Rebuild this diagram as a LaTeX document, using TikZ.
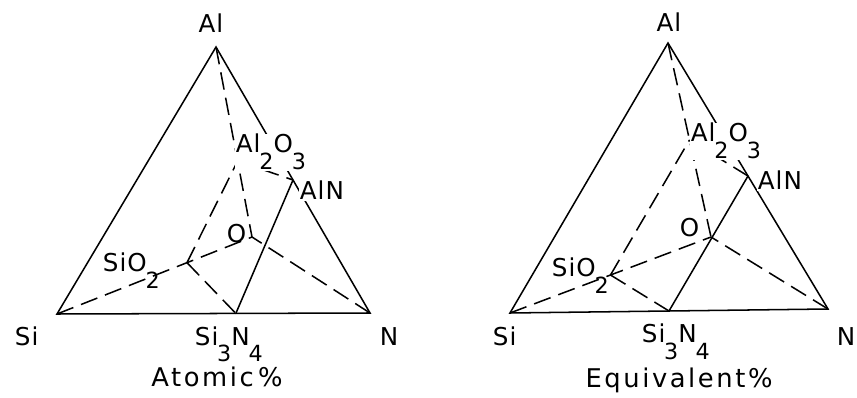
\documentclass[tikz,border=0pt]{standalone}
\usepackage{fontspec}
\usepackage{tikz}
\usetikzlibrary{calc}
\newfontfamily\letterfont[LetterSpace=4]{DejaVu Sans}
\newfontfamily\capfont[LetterSpace=10]{DejaVu Sans}
\newcommand{\lowsub}[1]{\kern-1pt\raisebox{-0.68em}{\fontsize{19}{20}\selectfont #1}}

\begin{document}
\begin{tikzpicture}[
    x=0.03cm, y=-0.03cm,
    edge/.style={draw=black, line width=1.3pt, line cap=round},
    hidden/.style={edge, line cap=butt, dash pattern=on 15pt off 7pt},
    chem/.style={font=\letterfont\fontsize{21}{24}\selectfont, inner sep=0.6pt, fill=white},
    caption/.style={font=\capfont\fontsize{22}{24}\selectfont, inner sep=0pt}
]
    \useasboundingbox (0,0) rectangle (857,398);

    % Atomic % corners
    \coordinate (aSi) at (57,314);
    \coordinate (aN)  at (370,313);
    \coordinate (aAl) at (216,47);
    \coordinate (aO)  at (252,237);
    % compounds on the edges
    \coordinate (aSiN) at ($(aSi)!4/7!(aN)$);
    \coordinate (aAlN) at ($(aAl)!1/2!(aN)$);
    \coordinate (aAlO) at ($(aAl)!3/5!(aO)$);
    \coordinate (aSiO) at ($(aSi)!2/3!(aO)$);

    % Equivalent % corners
    \coordinate (eSi) at (510,313);
    \coordinate (eN)  at (828,309);
    \coordinate (eAl) at (668,43);
    \coordinate (eO)  at (711,237);
    \coordinate (eSiN) at ($(eSi)!1/2!(eN)$);
    \coordinate (eAlN) at ($(eAl)!1/2!(eN)$);
    \coordinate (eAlO) at ($(eAl)!1/2!(eO)$);
    \coordinate (eSiO) at ($(eSi)!1/2!(eO)$);

    % Lines
    \draw [edge] (aSi) -- (aN) -- (aAl) -- cycle;
    \draw [edge] (aSiN) -- (aAlN);
    \draw [hidden] (aSi) -- (aO);
    \draw [hidden] (aAl) -- (aO);
    \draw [hidden] (aN) -- (aO);
    \draw [hidden] (aSiO) -- (aAlO);
    \draw [hidden] (aAlO) -- (aAlN);
    \draw [hidden] (aSiO) -- (aSiN);

    \draw [edge] (eSi) -- (eN) -- (eAl) -- cycle;
    \draw [edge] (eSiN) -- (eAlN);
    \draw [hidden] (eSi) -- (eO);
    \draw [hidden] (eAl) -- (eO);
    \draw [hidden] (eN) -- (eO);
    \draw [hidden] (eSiO) -- (eAlO);
    \draw [hidden] (eAlO) -- (eAlN);
    \draw [hidden] (eSiO) -- (eSiN);

    % Labels
    \node [chem, anchor=base] (aAlTxt) at (211,33) {Al};
    \node [chem, anchor=base west] (aSiTxt) at (14,345) {Si};
    \node [chem, anchor=base west] (aNTxt) at (379,345) {N};
    \node [chem, anchor=base west] (aSiNTxt) at (194,345) {Si\lowsub{3}N\lowsub{4}};
    \node [chem, anchor=base west] (aAlOTxt) at (235,153) {Al\lowsub{2}O\lowsub{3}};
    \node [chem, anchor=base west] (aAlNTxt) at (299,200) {AlN};
    \node [chem, anchor=base west, fill=none] (aOTxt) at (226,243) {O};
    \node [chem, anchor=base west, fill=none] (aSiOTxt) at (102,272) {SiO\lowsub{2}};
    \node [caption, anchor=base] (aCap) at (217,386) {Atomic\,\%};

    \node [chem, anchor=base] (eAlTxt) at (669,32) {Al};
    \node [chem, anchor=base west] (eSiTxt) at (492,345) {Si};
    \node [chem, anchor=base west] (eNTxt) at (836,345) {N};
    \node [chem, anchor=base west] (eSiNTxt) at (641,343) {Si\lowsub{3}N\lowsub{4}};
    \node [chem, anchor=base west] (eAlOTxt) at (690,142) {Al\lowsub{2}O\lowsub{3}};
    \node [chem, anchor=base west] (eAlNTxt) at (757,190) {AlN};
    \node [chem, anchor=base west, fill=none] (eOTxt) at (679,237) {O};
    \node [chem, anchor=base west, fill=none] (eSiOTxt) at (551,277) {SiO\lowsub{2}};
    \node [caption, anchor=base] (eCap) at (679,387) {Equivalent\%};

\end{tikzpicture}
\end{document}
